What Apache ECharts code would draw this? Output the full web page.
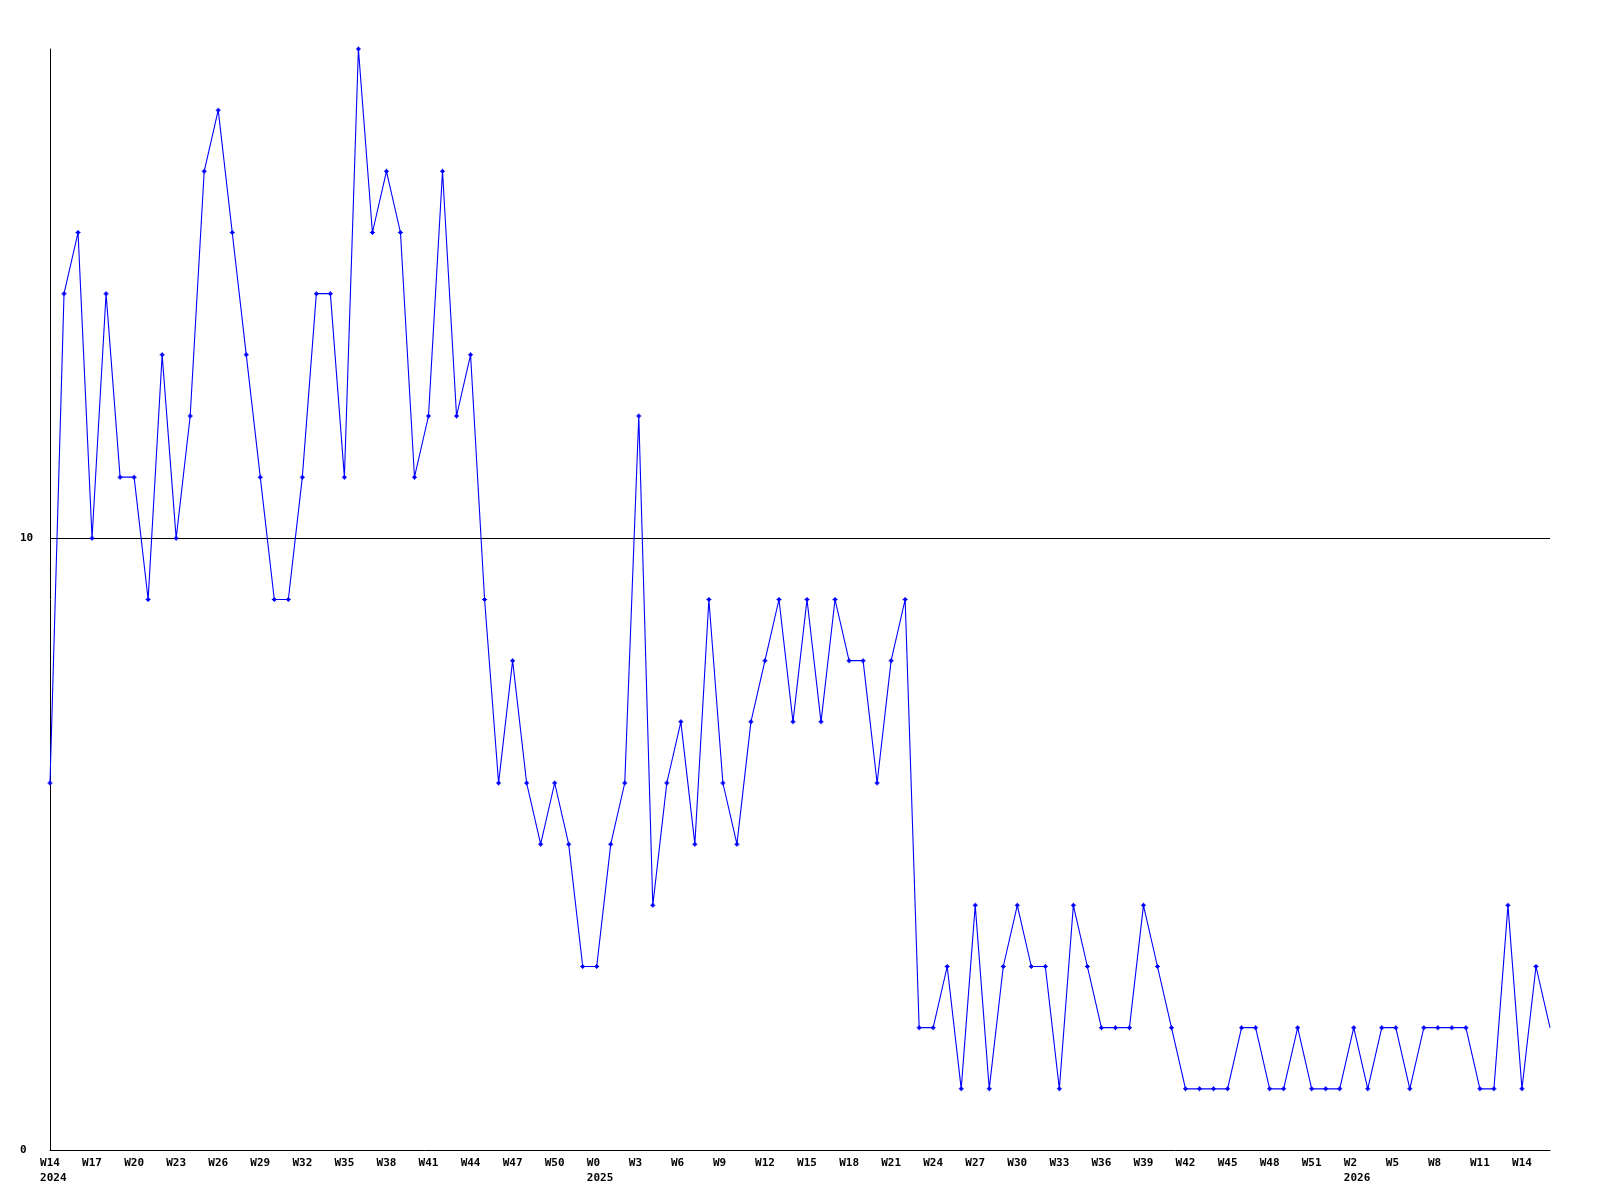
<!DOCTYPE html>
<html>
<head>
<meta charset="utf-8">
<style>
  html, body { margin: 0; padding: 0; background: #ffffff; }
  #chart { width: 1600px; height: 1200px; }
</style>
<script src="https://cdn.jsdelivr.net/npm/echarts@6/dist/echarts.min.js"></script>
</head>
<body>
<div id="chart"></div>
<script>
// Weekly values, from W14 2024 to about W17 2026
const values = [
  6, 14, 15, 10, 14, 11, 11, 9, 13, 10,
  12, 16, 17, 15, 13, 11, 9, 9, 11, 14,
  14, 11, 18, 15, 16, 15, 11, 12, 16, 12,
  13, 9, 6, 8, 6, 5, 6, 5, 3, 3,
  5, 6, 12, 4, 6, 7, 5, 9, 6, 5,
  7, 8, 9, 7, 9, 7, 9, 8, 8, 6,
  8, 9, 2, 2, 3, 1, 4, 1, 3, 4,
  3, 3, 1, 4, 3, 2, 2, 2, 4, 3,
  2, 1, 1, 1, 1, 2, 2, 1, 1, 2,
  1, 1, 1, 2, 1, 2, 2, 1, 2, 2,
  2, 2, 1, 1, 4, 1, 3, 2
];

// Tick labels, one every third point
const tickLabels = [
  'W14', 'W17', 'W20', 'W23', 'W26', 'W29', 'W32', 'W35', 'W38', 'W41', 'W44', 'W47', 'W50',
  'W0', 'W3', 'W6', 'W9', 'W12', 'W15', 'W18', 'W21', 'W24', 'W27', 'W30', 'W33', 'W36',
  'W39', 'W42', 'W45', 'W48', 'W51',
  'W2', 'W5', 'W8', 'W11', 'W14'
];
// Year shown under these tick labels (index into tickLabels)
const yearTickIndex = [0, 13, 31];
const yearNames = ['2024', '2025', '2026'];

const yTickLabels = ['0', '10'];

const categories = values.map((_, i) => String(i));
const lastIdx = values.length - 1;
const seriesData = values.map((v, i) => i === lastIdx ? { value: v, symbol: 'none' } : v);

const FONT = 'DejaVu Sans Mono';
const chart = echarts.init(document.getElementById('chart'), null, { renderer: 'canvas' });

chart.setOption({
  animation: false,
  backgroundColor: '#ffffff',
  grid: { left: 50, right: 50, top: 49, bottom: 50, containLabel: false },
  xAxis: {
    type: 'category',
    data: categories,
    boundaryGap: false,
    axisLine: { show: true, lineStyle: { color: '#000000', width: 1 } },
    axisTick: { show: false },
    splitLine: { show: false },
    axisLabel: {
      interval: 2,
      margin: 5,
      color: '#000000',
      fontFamily: FONT,
      fontWeight: 'bold',
      fontSize: 11,
      lineHeight: 15.5,
      align: 'center',
      formatter: function (val, idx) {
        const t = Math.round(idx / 3);
        if (idx % 3 !== 0 || t >= tickLabels.length) return '';
        let s = tickLabels[t];
        if (s.length === 2) s = s + ' ';
        const yi = yearTickIndex.indexOf(t);
        if (yi >= 0) s += '\n ' + yearNames[yi];
        return s;
      }
    }
  },
  yAxis: {
    type: 'value',
    min: 0,
    max: 18,
    interval: 10,
    axisLine: { show: true, lineStyle: { color: '#000000', width: 1 } },
    axisTick: { show: false },
    splitLine: { show: true, lineStyle: { color: ['transparent', '#000000', 'transparent'], width: 1 } },
    axisLabel: {
      showMaxLabel: false,
      align: 'left',
      margin: 30,
      color: '#000000',
      fontFamily: FONT,
      fontWeight: 'bold',
      fontSize: 11,
      formatter: function (v) {
        const i = yTickLabels.indexOf(String(v));
        return i >= 0 ? yTickLabels[i] : '';
      }
    }
  },
  series: [{
    type: 'line',
    data: seriesData,
    symbol: 'path://M1,1H4V4H1Z M2,0H3V5H2Z M0,2H5V3H0Z',
    symbolSize: 5,
    showAllSymbol: true,
    lineStyle: { color: '#0000ff', width: 1.1 },
    itemStyle: { color: '#0000ff' },
    emphasis: { disabled: true }
  }]
});
</script>
</body>
</html>
